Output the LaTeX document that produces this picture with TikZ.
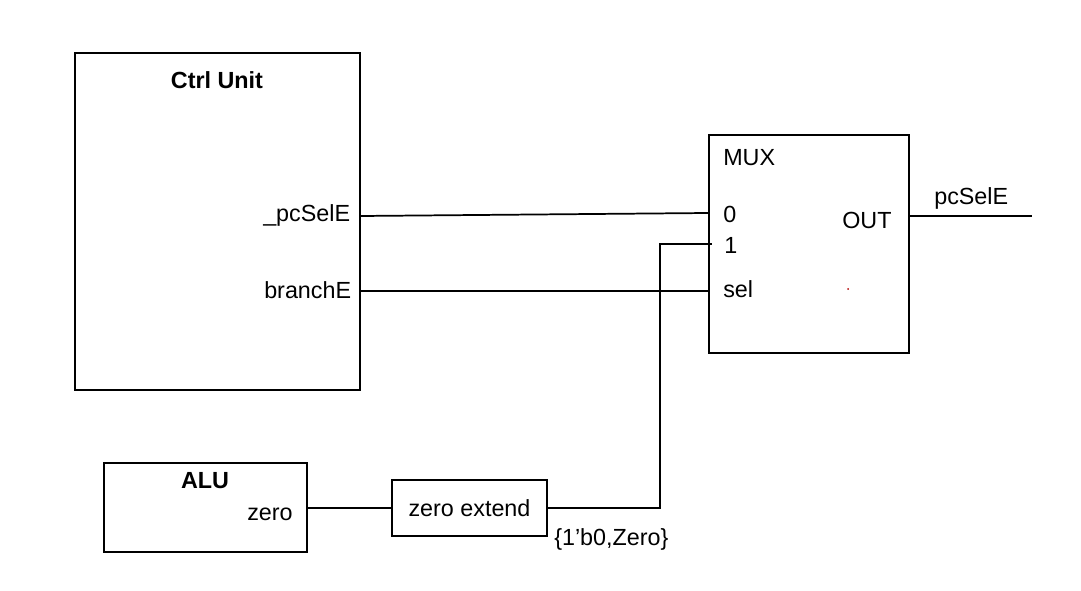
\documentclass[tikz,border=0pt]{standalone}
\usepackage{fontspec}
\setmainfont{Liberation Sans}
\usepackage{tikz}
\usetikzlibrary{positioning}
\usetikzlibrary{calc}

\begin{document}
\begin{tikzpicture}[
  x=0.75pt, y=-0.75pt,
  every node/.style={font=\fontsize{17.5}{20}\selectfont},
  blk/.style={rectangle, draw, line width=1.3pt, inner sep=0pt},
  lbl/.style={inner sep=0pt, anchor=base west},
  ttl/.style={inner sep=0pt, anchor=base, font=\fontsize{17.5}{20}\selectfont\bfseries},
  wire/.style={line width=1.3pt}
]
\useasboundingbox (0,0) rectangle (1081,591);

% ---------- Blocks ----------
\node[blk, minimum width=213.75pt, minimum height=252.75pt] (ctrl) at (217.5,221.5) {};
\node[blk, minimum width=150pt, minimum height=163.5pt] (mux) at (809,244) {};
\node[blk, minimum width=116.25pt, minimum height=42pt] (zext) at (469.5,508) {zero extend};
\node[blk, minimum width=152.25pt, minimum height=66.75pt] (alu) at (205.5,507.5) {};

% ---------- Block titles and ports ----------
\node[ttl] (ctrltitle) at (217,89) {Ctrl Unit};
\node[lbl] (pcsel) at (263,222) {\_pcSelE};
\node[lbl] (branch) at (264,299) {branchE};

\node[lbl] (muxtitle) at (723,166) {MUX};
\node[lbl] (in0) at (723,223) {0};
\node[lbl] (in1) at (724,254) {1};
\node[lbl] (insel) at (723,298) {sel};
\node[lbl] (outp) at (842,229) {OUT};
\node[circle, fill=red!70!black, inner sep=0pt, minimum size=1.5pt] (dot) at (848,289) {};

\node[ttl] (alutitle) at (205,488) {ALU};
\node[lbl] (zero) at (247,520) {zero};

\node[lbl] (zbits) at (554,545) {\{1'b0,Zero\}};
\node[lbl] (pcselout) at (934,205) {pcSelE};

% ---------- Wires ----------
\coordinate (outend) at (1032,216);
\coordinate (bend) at (660,244);
\coordinate (in1end) at (712,244);

\draw[wire] (ctrl.east |- 0,216) -- (mux.west |- 0,213);
\draw[wire] (ctrl.east |- 0,291) -- (mux.west |- 0,291);
\draw[wire] (mux.east |- outend) -- (outend);
\draw[wire] (alu.east |- zext.west) -- (zext.west);
\draw[wire] (zext.east) -| (bend) -- (in1end);

\end{tikzpicture}
\end{document}
